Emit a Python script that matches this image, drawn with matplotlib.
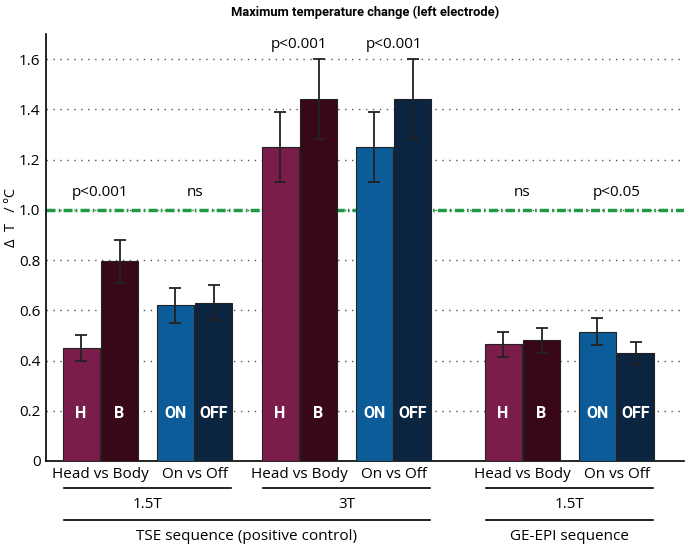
import numpy as np
import matplotlib
matplotlib.use('Agg')
import matplotlib.pyplot as plt
import matplotlib.transforms as mtransforms
from matplotlib import font_manager
from matplotlib.ticker import FuncFormatter

plt.rcParams['font.family'] = ['Open Sans', 'DejaVu Sans']

installed = {f.name for f in font_manager.fontManager.ttflist}
narrow = 'Liberation Sans Narrow' if 'Liberation Sans Narrow' in installed else 'Roboto'
narrow_is_real = narrow == 'Liberation Sans Narrow'

# data
bar_labels = ['H', 'B', 'ON', 'OFF'] * 3
values = [0.45, 0.795, 0.62, 0.63,
          1.25, 1.44, 1.25, 1.44,
          0.465, 0.48, 0.515, 0.43]
errors = [0.05, 0.085, 0.07, 0.07,
          0.14, 0.16, 0.14, 0.16,
          0.05, 0.05, 0.055, 0.045]
pair_labels = ['Head vs Body', 'On vs Off'] * 3
p_texts = ['p<0.001', 'ns', 'p<0.001', 'p<0.001', 'ns', 'p<0.05']
p_heights = [1.07, 1.07, 1.66, 1.66, 1.07, 1.07]
field_labels = ['1.5T', '3T', '1.5T']
seq_labels = ['TSE sequence (positive control)', 'GE-EPI sequence']

colors = {'H': '#7b1d4a', 'B': '#380818', 'ON': '#0b5c99', 'OFF': '#0b2440'}

# layout: bar positions
group_starts = [0.0, 5.17, 10.96]
pair_offsets = [0.0, 2.45]
x = []
for g in group_starts:
    for p in pair_offsets:
        x += [g + p, g + p + 1]
x = np.array(x)

fig = plt.figure(figsize=(6.86, 5.46), dpi=100)
W, H = 686, 546
ax = fig.add_axes([46 / W, (H - 461) / H, (684 - 46) / W, (461 - 34) / H])

ax.bar(x, values, width=0.96, color=[colors[l] for l in bar_labels],
       edgecolor='#222222', linewidth=0.8, zorder=3)
ax.errorbar(x, values, yerr=errors, fmt='none', ecolor='#222222',
            elinewidth=1.3, capsize=4, capthick=1.3, zorder=4)

lab_size = 13 if narrow_is_real else 11.5
for xi, lab in zip(x, bar_labels):
    ax.text(xi, 0.19, lab, color='white', fontweight='bold', fontsize=lab_size,
            ha='center', va='center', family=[narrow, 'DejaVu Sans'], zorder=5)

ax.axhline(1.0, color='#1e9a46', linestyle=(0, (2.6, 0.9, 0.5, 0.9)),
           linewidth=2.5, zorder=2)

ax.set_xlim(-0.91, 15.66)
ax.set_ylim(0, 1.7)
ax.set_yticks(np.arange(0, 1.61, 0.2))
ax.yaxis.set_major_formatter(FuncFormatter(lambda v, _: '0' if abs(v) < 1e-9 else f'{v:.1f}'))
ax.tick_params(axis='y', length=0, labelsize=11, pad=4)
ax.set_xticks([])
ax.grid(axis='y', linestyle=(0, (1, 4)), color='#555555', linewidth=1.0, zorder=0)
for s in ['top', 'right']:
    ax.spines[s].set_visible(False)
for s in ['left', 'bottom']:
    ax.spines[s].set_linewidth(1.2)

ax.set_ylabel('Δ  T   / ºC', fontsize=10.5)
ax.yaxis.set_label_coords(-0.043, 0.57)

title_size = 11 if narrow_is_real else 9.3
fig.text(365 / W, 1 - 12 / H, 'Maximum temperature change (left electrode)',
         ha='center', va='center', fontsize=title_size, fontweight='bold',
         family=[narrow, 'DejaVu Sans'])

# p-values
for i in range(6):
    cx = (x[2 * i] + x[2 * i + 1]) / 2
    ax.text(cx, p_heights[i], p_texts[i], ha='center', va='center', fontsize=11)

# labels below the axis
trans = mtransforms.blended_transform_factory(ax.transData, fig.transFigure)
for i in range(6):
    cx = (x[2 * i] + x[2 * i + 1]) / 2
    ax.text(cx, 1 - 474 / H, pair_labels[i], transform=trans, ha='center',
            va='center', fontsize=11)

for gi in range(3):
    x0 = x[4 * gi] - 0.45
    x1 = x[4 * gi + 3] + 0.45
    ax.plot([x0, x1], [1 - 488 / H] * 2, transform=trans, color='black',
            linewidth=1.2, clip_on=False)
    ax.text((x0 + x1) / 2, 1 - 505 / H, field_labels[gi], transform=trans,
            ha='center', va='center', fontsize=11)

seq_spans = [(x[0] - 0.45, x[7] + 0.45), (x[8] - 0.45, x[11] + 0.45)]
for (x0, x1), lab in zip(seq_spans, seq_labels):
    ax.plot([x0, x1], [1 - 520 / H] * 2, transform=trans, color='black',
            linewidth=1.2, clip_on=False)
    ax.text((x0 + x1) / 2, 1 - 536 / H, lab, transform=trans,
            ha='center', va='center', fontsize=11)

fig.savefig('out.png', dpi=100)
